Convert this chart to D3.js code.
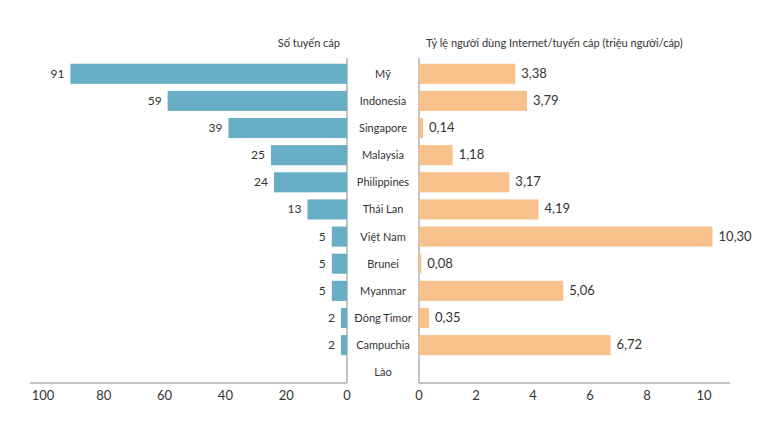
<!DOCTYPE html>
<html><head><meta charset="utf-8">
<script src="https://cdn.jsdelivr.net/npm/d3@7"></script>
<style>body{margin:0;background:#fff}text{font-family:Lato,"Noto Sans",sans-serif;fill:#333}</style>
</head><body><svg id="c" width="773" height="435"></svg>
<script>
var countries = ["Mỹ","Indonesia","Singapore","Malaysia","Philippines","Thái Lan","Việt Nam","Brunei","Myanmar","Đông Timor","Campuchia","Lào"];
var cables = [91,59,39,25,24,13,5,5,5,2,2,null];
var usersPerCable = [3.38,3.79,0.14,1.18,3.17,4.19,10.30,0.08,5.06,0.35,6.72,null];
var leftTicks = [100,80,60,40,20,0];
var rightTicks = [0,2,4,6,8,10];

var svg = d3.select("#c");
var fmt = function(v){ return v.toFixed(2).replace(".", ","); };

var y = d3.scaleBand().domain(countries).range([61, 385]).paddingInner(0.26).paddingOuter(0.1);
var xl = d3.scaleLinear().domain([0,100]).range([347,43]);
var xr = d3.scaleLinear().domain([0,10]).range([419,704]);
var axisY = 383;

// axes
svg.append("line").attr("x1",30).attr("x2",347).attr("y1",axisY).attr("y2",axisY).attr("stroke","#888");
svg.append("line").attr("x1",419).attr("x2",730).attr("y1",axisY).attr("y2",axisY).attr("stroke","#888");
svg.append("line").attr("x1",347).attr("x2",347).attr("y1",58).attr("y2",axisY).attr("stroke","#888");
svg.append("line").attr("x1",419).attr("x2",419).attr("y1",58).attr("y2",axisY).attr("stroke","#888");

svg.selectAll(".lt").data(leftTicks).enter().append("text")
  .attr("x", d => xl(d)).attr("y", 400).attr("text-anchor","middle").attr("font-size",13).text(d => d);
svg.selectAll(".rt").data(rightTicks).enter().append("text")
  .attr("x", d => xr(d)).attr("y", 400).attr("text-anchor","middle").attr("font-size",13).text(d => d);

// titles
svg.append("text").attr("x",340).attr("y",47).attr("text-anchor","end").attr("font-size",11).text("Số tuyến cáp");
svg.append("text").attr("x",426).attr("y",47).attr("font-size",11).text("Tỷ lệ người dùng Internet/tuyến cáp (triệu người/cáp)");

var rows = countries.map((c,i) => ({c:c, l:cables[i], r:usersPerCable[i]}));

svg.selectAll(".bl").data(rows.filter(d => d.l != null)).enter().append("rect")
  .attr("x", d => xl(d.l)).attr("y", d => y(d.c)).attr("width", d => xl(0)-xl(d.l)).attr("height", y.bandwidth())
  .attr("fill","#67aec6");
svg.selectAll(".vl").data(rows.filter(d => d.l != null)).enter().append("text")
  .attr("x", d => xl(d.l)-6).attr("y", d => y(d.c)+y.bandwidth()/2+4).attr("text-anchor","end").attr("font-size",12).text(d => d.l);

svg.selectAll(".br").data(rows.filter(d => d.r != null)).enter().append("rect")
  .attr("x", xr(0)).attr("y", d => y(d.c)).attr("width", d => xr(d.r)-xr(0)).attr("height", y.bandwidth())
  .attr("fill","#f8c08b");
svg.selectAll(".vr").data(rows.filter(d => d.r != null)).enter().append("text")
  .attr("x", d => xr(d.r)+6).attr("y", d => y(d.c)+y.bandwidth()/2+4).attr("font-size",13).text(d => fmt(d.r));

svg.selectAll(".cn").data(rows).enter().append("text")
  .attr("x",383).attr("y", d => y(d.c)+y.bandwidth()/2+4).attr("text-anchor","middle").attr("font-size",11).text(d => d.c);
</script></body></html>
